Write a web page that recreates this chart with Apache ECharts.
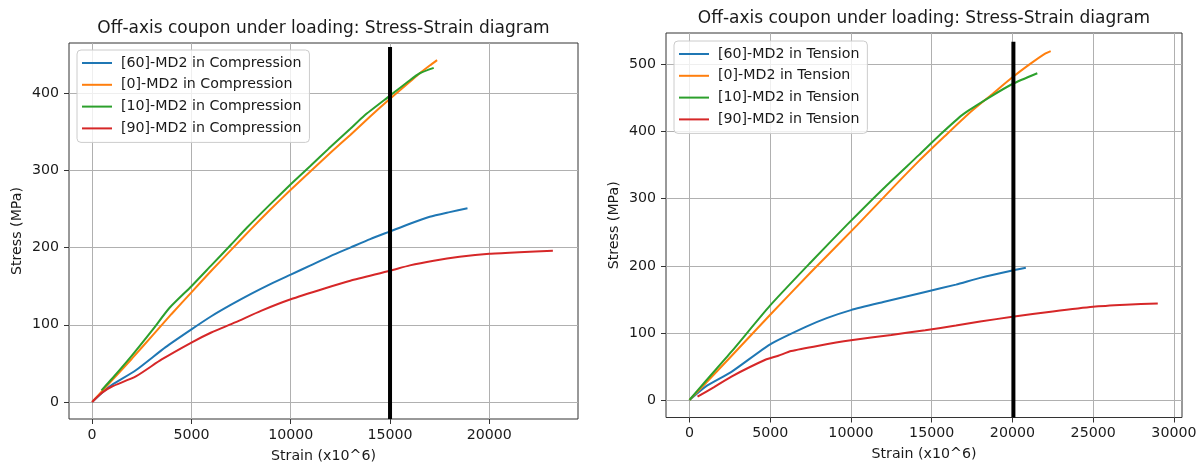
<!DOCTYPE html>
<html>
<head>
<meta charset="utf-8">
<script src="https://cdn.jsdelivr.net/npm/echarts@6/dist/echarts.min.js"></script>
<style>
  html, body { margin: 0; padding: 0; background: #fff; }
  #chart { width: 1202px; height: 468px; }
</style>
</head>
<body>
<div id="chart"></div>
<script>
// ---------- Data (strain x10^6, stress MPa) ----------
const titleText = 'Off-axis coupon under loading: Stress-Strain diagram';
const compNames = ['[60]-MD2 in Compression', '[0]-MD2 in Compression', '[10]-MD2 in Compression', '[90]-MD2 in Compression'];
const tensNames = ['[60]-MD2 in Tension', '[0]-MD2 in Tension', '[10]-MD2 in Tension', '[90]-MD2 in Tension'];

const comp60 = [[0,0],[500,12],[1000,22],[2200,41],[3700,71],[5000,94],[6000,111],[7000,126],[8000,140],[9000,153],[10000,165],[11000,177],[12000,189],[13000,200],[14000,211],[15000,221],[16000,231],[17000,240],[18000,246],[18900,251]];
const comp0 = [[0,0],[1000,28],[2000,56],[3000,85],[4000,114],[5000,142],[6000,170],[7000,197],[8000,224],[9000,250],[10000,275],[11000,299],[12000,323],[13000,346],[14000,370],[15000,393],[16000,415],[16500,426],[17000,436],[17370,443]];
const comp10 = [[470,15],[1000,30],[2000,60],[3000,92],[3900,122],[5000,150],[6000,177],[7000,204],[7800,226],[9000,257],[10000,282],[11000,306],[11900,328],[13000,354],[13700,371],[15000,397],[16000,417],[16500,426],[17200,433]];
const comp90 = [[0,0],[500,12],[1000,20],[2200,33],[3500,55],[5000,77],[6000,90],[7200,103],[8500,118],[10000,133],[11700,147],[13000,157],[15000,170],[16000,177],[17200,183],[18500,188],[20000,192],[21500,194],[23200,196]];

const tens60 = [[0,0],[1000,20],[2600,42],[5000,83],[7200,109],[8500,122],[10000,134],[12000,146],[14600,161],[16500,172],[18000,182],[20000,193],[20830,197]];
const tens0 = [[0,0],[1000,25],[2500,63],[5000,127],[7500,190],[10400,261],[12500,314],[14200,356],[15800,393],[17300,427],[18700,455],[20000,481],[21100,501],[22000,516],[22370,520]];
const tens10 = [[0,0],[1000,28],[2600,72],[5000,141],[7500,205],[9750,261],[12000,315],[14200,365],[15500,395],[16900,425],[18500,450],[20000,471],[21540,487]];
const tens90 = [[500,5],[1500,19],[2600,35],[4700,60],[5500,66],[6300,73],[8000,81],[10000,89],[12500,97],[14600,104],[16500,111],[18000,117],[20000,124],[22500,132],[25000,139],[27000,142],[29000,144]];

// vertical reference lines: [strain, stressTop]
const compMarker = [15000, 460];
const tensMarker = [20060, 534];

// axis ranges and ticks
const compXRange = [-1165, 24465];
const compYRange = [-22.15, 465.2];
const tensXRange = [-1452, 30500];
const tensYRange = [-26.05, 547];
const compXTicks = [0, 5000, 10000, 15000, 20000];
const compYTicks = [0, 100, 200, 300, 400];
const tensXTicks = [0, 5000, 10000, 15000, 20000, 25000, 30000];
const tensYTicks = [0, 100, 200, 300, 400, 500];

const colors = ['#1f77b4', '#ff7f0e', '#2ca02c', '#d62728'];
const FONT = 'DejaVu Sans';
const TXT = '#1a1a1a';

function xAxis(gridIndex, range, ticks) {
  return {
    type: 'value', gridIndex, min: range[0], max: range[1], position: 'bottom',
    name: 'Strain (x10^6)', nameLocation: 'middle', nameGap: 30,
    nameTextStyle: { fontFamily: FONT, fontSize: 14.2, color: TXT },
    axisLine: { show: false, onZero: false },
    axisTick: { show: true, length: 5, customValues: ticks, lineStyle: { color: '#333', width: 1 } },
    axisLabel: { customValues: ticks, margin: 9, fontFamily: FONT, fontSize: 14.2, color: TXT, formatter: v => String(v) },
    splitLine: { show: true, lineStyle: { color: '#b0b0b0', width: 1 } }
  };
}
function yAxis(gridIndex, range, ticks) {
  return {
    type: 'value', gridIndex, min: range[0], max: range[1], position: 'left',
    name: 'Stress (MPa)', nameLocation: 'middle', nameGap: 45, nameRotate: 90,
    nameTextStyle: { fontFamily: FONT, fontSize: 14.2, color: TXT },
    axisLine: { show: false, onZero: false },
    axisTick: { show: true, length: 5, customValues: ticks, lineStyle: { color: '#333', width: 1 } },
    axisLabel: { customValues: ticks, margin: 10, fontFamily: FONT, fontSize: 14.2, color: TXT, formatter: v => String(v) },
    splitLine: { show: true, lineStyle: { color: '#b0b0b0', width: 1 } }
  };
}
function curve(name, data, color, idx) {
  return {
    type: 'line', name, data, xAxisIndex: idx, yAxisIndex: idx,
    showSymbol: false, symbol: 'none', smooth: 0.2, animation: false,
    lineStyle: { color, width: 2 }, itemStyle: { color }
  };
}
function marker(m, yr, idx) {
  return {
    type: 'line', name: 'marker' + idx, data: [[m[0], yr[0]], [m[0], m[1]]],
    xAxisIndex: idx, yAxisIndex: idx, showSymbol: false, symbol: 'none',
    animation: false, z: 5, lineStyle: { color: '#000', width: 4 }
  };
}
function legend(names, left, top) {
  return {
    data: names, left, top, orient: 'vertical', icon: 'rect',
    itemWidth: 30, itemHeight: 2, itemGap: 5.8, padding: [5, 8, 6, 5],
    selectedMode: false,
    backgroundColor: 'rgba(255,255,255,0.8)', borderColor: '#cccccc', borderWidth: 1, borderRadius: 4,
    textStyle: { fontFamily: FONT, fontSize: 14.2, color: TXT, lineHeight: 16, padding: [0, 0, 0, 4] }
  };
}

const chart = echarts.init(document.getElementById('chart'), null, { renderer: 'canvas' });
chart.setOption({
  animation: false,
  backgroundColor: '#ffffff',
  title: [
    { text: titleText, left: 323.5, top: 20, textAlign: 'center', padding: 0,
      textStyle: { fontFamily: FONT, fontSize: 17, fontWeight: 'normal', color: TXT } },
    { text: titleText, left: 924, top: 10.5, textAlign: 'center', padding: 0,
      textStyle: { fontFamily: FONT, fontSize: 17, fontWeight: 'normal', color: TXT } }
  ],
  grid: [
    { left: 69, top: 43, width: 509, height: 379, show: true, borderColor: '#333', borderWidth: 1, backgroundColor: 'transparent' },
    { left: 666, top: 33, width: 516, height: 384.5, show: true, borderColor: '#333', borderWidth: 1, backgroundColor: 'transparent' }
  ],
  xAxis: [xAxis(0, compXRange, compXTicks), xAxis(1, tensXRange, tensXTicks)],
  yAxis: [yAxis(0, compYRange, compYTicks), yAxis(1, tensYRange, tensYTicks)],
  legend: [legend(compNames, 77, 50), legend(tensNames, 674, 41)],
  series: [
    curve(compNames[0], comp60, colors[0], 0),
    curve(compNames[1], comp0, colors[1], 0),
    curve(compNames[2], comp10, colors[2], 0),
    curve(compNames[3], comp90, colors[3], 0),
    marker(compMarker, compYRange, 0),
    curve(tensNames[0], tens60, colors[0], 1),
    curve(tensNames[1], tens0, colors[1], 1),
    curve(tensNames[2], tens10, colors[2], 1),
    curve(tensNames[3], tens90, colors[3], 1),
    marker(tensMarker, tensYRange, 1)
  ]
});
</script>
</body>
</html>
